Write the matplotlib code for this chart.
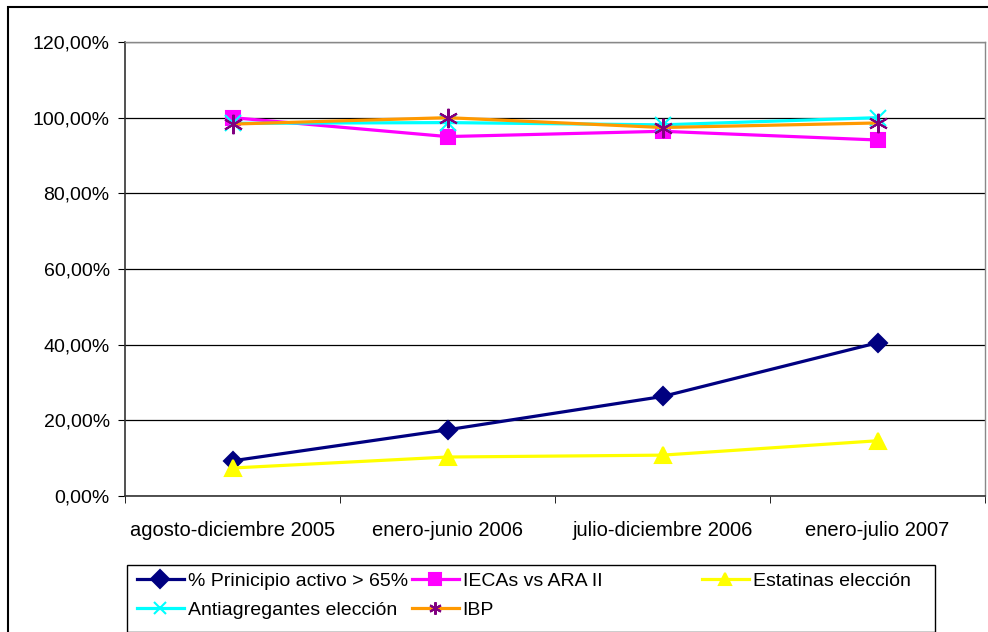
import matplotlib.pyplot as plt
import numpy as np
from matplotlib.patches import Rectangle
from matplotlib.ticker import FixedLocator, FuncFormatter

plt.rcParams['font.family'] = ['Liberation Sans', 'DejaVu Sans']

periods = ["agosto-diciembre 2005", "enero-junio 2006",
           "julio-diciembre 2006", "enero-julio 2007"]
principio_activo = [9.3, 17.5, 26.3, 40.5]
iecas_ara = [100.0, 95.0, 96.4, 94.1]
estatinas = [7.4, 10.3, 10.8, 14.6]
antiagregantes = [98.5, 98.7, 98.1, 100.0]
ibp = [98.3, 100.0, 97.4, 98.6]
y_ticks = [0, 20, 40, 60, 80, 100, 120]

series = [
    ("% Prinicipio activo > 65%", principio_activo, "#000080", "D", "#000080", 9),
    ("IECAs vs ARA II", iecas_ara, "#FF00FF", "s", "#FF00FF", 10),
    ("Estatinas elección", estatinas, "#FFFF00", "^", "#FFFF00", 12),
    ("Antiagregantes elección", antiagregantes, "#00FFFF", "x", "#00FFFF", 11),
    ("IBP", ibp, "#FF9900", (6, 2, 0), "#800080", 14),
]


def main():
    fig = plt.figure(figsize=(9.88, 6.32), dpi=100)
    # outer chart border
    fig.patches.append(Rectangle((8 / 988, -0.01), 1.0, 1 - 7 / 632 + 0.01,
                                 transform=fig.transFigure, fill=False,
                                 edgecolor="black", linewidth=1.5))

    ax = fig.add_axes([125 / 988, 1 - 496 / 632, 860 / 988, 454 / 632])
    x = np.arange(len(periods))
    handles = []
    for label, vals, color, marker, mcolor, ms in series:
        h, = ax.plot(x, vals, color=color, linewidth=2.3, marker=marker,
                     markersize=ms, markerfacecolor=mcolor,
                     markeredgecolor=mcolor, markeredgewidth=1.5, label=label)
        handles.append(h)

    ax.set_xlim(-0.5, len(periods) - 0.5)
    ax.set_ylim(0, 120)
    ax.set_yticks(y_ticks)
    ax.yaxis.set_major_formatter(FuncFormatter(lambda v, p: f"{v:.2f}%".replace(".", ",")))
    ax.yaxis.grid(True, color="black", linewidth=0.9)
    ax.set_axisbelow(True)

    ax.set_xticks(x)
    ax.set_xticklabels(periods)
    ax.xaxis.set_minor_locator(FixedLocator(np.arange(-0.5, len(periods), 1.0)))
    ax.tick_params(axis="x", which="major", length=0, pad=18, labelsize=14.5)
    ax.tick_params(axis="x", which="minor", length=5, direction="out")
    ax.tick_params(axis="y", length=5, direction="out", labelsize=14, pad=6)

    for s in ("left", "bottom"):
        ax.spines[s].set_color("#333333")
        ax.spines[s].set_linewidth(1.2)
    for s in ("top", "right"):
        ax.spines[s].set_color("#888888")
        ax.spines[s].set_linewidth(1.0)

    # legend box with three evenly spaced columns
    fig.patches.append(Rectangle((127 / 988, 0.0), 808 / 988, 67 / 632,
                                 transform=fig.transFigure, fill=False,
                                 edgecolor="black", linewidth=1.0))
    cols = [([handles[0], handles[3]], 137), ([handles[1], handles[4]], 412),
            ([handles[2]], 702)]
    for hs, px in cols:
        leg = fig.legend(handles=hs, loc="upper left",
                         bbox_to_anchor=(px / 988, 1 - 572 / 632),
                         frameon=False, fontsize=14, handlelength=2.4,
                         handletextpad=0.2, labelspacing=0.6,
                         borderaxespad=0, borderpad=0)
        for lh in leg.legend_handles:
            lh.set_markersize(9)

    fig.savefig("out.png", dpi=100)


if __name__ == '__main__':
    main()
